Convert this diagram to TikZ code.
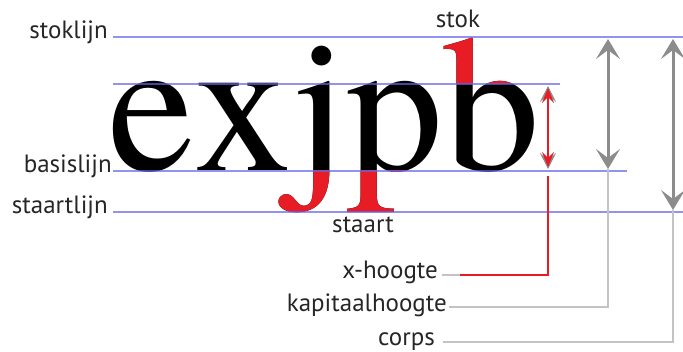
\documentclass[tikz,border=0pt]{standalone}
\usepackage{fontspec}
\newfontfamily\bigfont{texgyretermes-regular.otf}
\newfontfamily\labelfont{PT Sans}
\usetikzlibrary{arrows.meta}
\definecolor{guide}{RGB}{100,100,235}
\definecolor{arrowgray}{RGB}{140,140,140}
\definecolor{thingray}{RGB}{195,195,195}
\definecolor{mred}{RGB}{232,28,36}
\begin{document}
\begin{tikzpicture}[x=1pt,y=-1pt,
  lbl/.style={font=\labelfont\fontsize{25}{25}\selectfont, inner sep=0pt, text=black!85},
  letter/.style={font=\bigfont\fontsize{194}{194}\selectfont, inner sep=0pt, anchor=base west},
  guideline/.style={draw=guide, line width=2pt, opacity=0.7},
  bigarrow/.style={draw=arrowgray, line width=3pt, {Stealth[length=20pt,width=24pt,inset=9pt]}-{Stealth[length=20pt,width=24pt,inset=9pt]}},
  redarrow/.style={draw=mred, line width=2pt, {Stealth[length=15pt,width=12pt,inset=6pt]}-{Stealth[length=15pt,width=12pt,inset=6pt]}},
  thinline/.style={draw=thingray, line width=1.5pt},
  redline/.style={draw=mred, line width=2.5pt}]
\useasboundingbox (0,0) rectangle (683,352);
% big word
\node[letter] (le) at (108,171) {e};
\node[letter] (lx) at (le.base east) {x};
\node[letter] (lj) at (lx.base east) {j};
\node[letter] (lp) at (lj.base east) {p};
\node[letter] (lb) at (lp.base east) {b};
% red parts
\begin{scope}
  \clip (lj.west |- 0,171) ++(-40,0) rectangle (lj.east |- 0,240);
  \node[letter, text=mred] at (lj.base west) {j};
\end{scope}
\begin{scope}
  \clip (lp.west |- 0,171) rectangle (lp.east |- 0,240);
  \node[letter, text=mred] at (lp.base west) {p};
\end{scope}
\begin{scope}
  \clip (lb.west |- 0,0) rectangle (lb.east |- 0,84);
  \node[letter, text=mred] at (lb.base west) {b};
\end{scope}
% guide lines
\coordinate (ascL) at (113,37);  \coordinate (ascR) at (683,37);
\coordinate (xhL) at (113,84);   \coordinate (xhR) at (560,84);
\coordinate (baseL) at (113,171); \coordinate (baseR) at (627,171);
\coordinate (descL) at (113,212); \coordinate (descR) at (683,212);
\draw[guideline] (ascL) -- (ascR);
\draw[guideline] (xhL) -- (xhR);
\draw[guideline] (baseL) -- (baseR);
\draw[guideline] (descL) -- (descR);
% labels
\node[lbl, anchor=base east] (stoklijn) at (108,39) {stoklijn};
\node[lbl, anchor=base east] (basislijn) at (112,173) {basislijn};
\node[lbl, anchor=base east] (staartlijn) at (108,214) {staartlijn};
\node[lbl, anchor=base] (stok) at (458,28) {stok};
\node[lbl, anchor=base] (staart) at (363,233) {staart};
\node[lbl, anchor=base east] (xhoogte) at (438,279) {x-hoogte};
\node[lbl, anchor=base east] (kapitaal) at (447,312) {kapitaalhoogte};
\node[lbl, anchor=base east] (corps) at (435,346) {corps};
% arrows
\coordinate (xTop) at (548,86);   \coordinate (xBot) at (548,169);
\coordinate (cTop) at (608,39);   \coordinate (cBot) at (608,169);
\coordinate (kTop) at (673,39);   \coordinate (kBot) at (673,210);
\draw[draw=arrowgray, line width=1pt, {Stealth[length=16pt,width=16pt,inset=7pt]}-{Stealth[length=16pt,width=16pt,inset=7pt]}] (xTop) -- (xBot);
\draw[redarrow] (xTop) ++(0,2) -- (548,167);
\draw[bigarrow] (cTop) -- (cBot);
\draw[bigarrow] (kTop) -- (kBot);
% leader lines
\coordinate (xhJoin) at (460,275);
\coordinate (xhCorner) at (548,275);
\coordinate (xhEnd) at (548,176);
\draw[thinline] (xhoogte.east |- xhJoin) ++(4,0) -- (xhJoin);
\draw[redline] (xhJoin) -- (xhCorner) -- (xhEnd);
\coordinate (kCorner) at (608,307);
\draw[thinline] (kapitaal.east |- kCorner) ++(2,0) -- (kCorner) -- (cBot);
\coordinate (cCorner) at (673,342);
\draw[thinline] (corps.east |- cCorner) ++(8,0) -- (cCorner) -- (kBot);
\end{tikzpicture}
\end{document}
